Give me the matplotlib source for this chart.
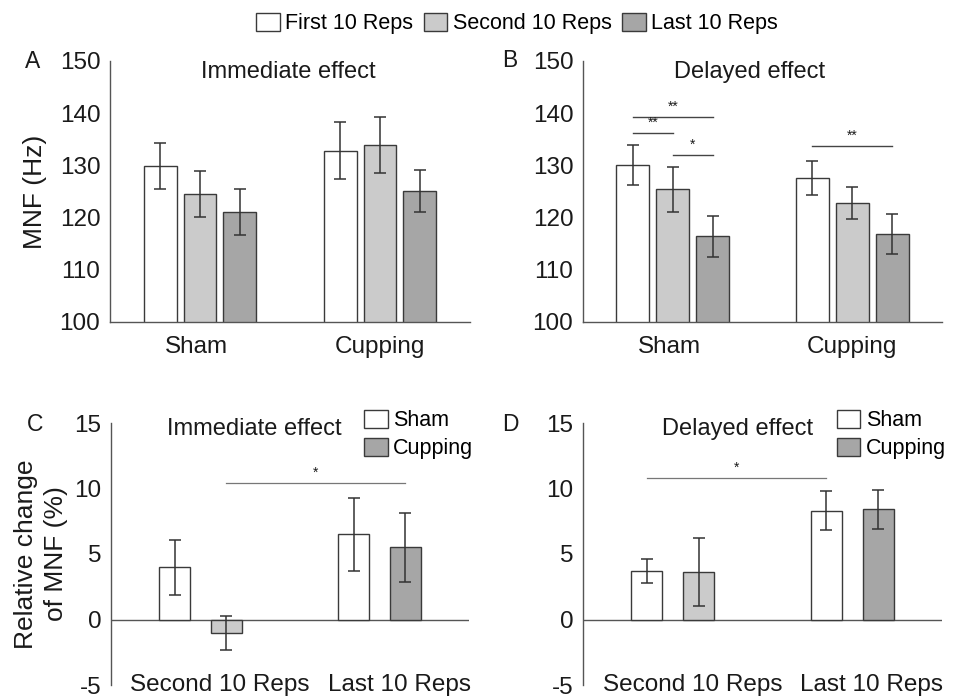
import matplotlib.pyplot as plt
from matplotlib.patches import Patch

plt.rcParams['font.family'] = ['Liberation Sans', 'DejaVu Sans']
plt.rcParams['axes.unicode_minus'] = False

# ---- data ----
groups = ["Sham", "Cupping"]
rep_labels = ["First 10 Reps", "Second 10 Reps", "Last 10 Reps"]

# A: immediate effect, MNF (Hz), rows = group, cols = rep block
imm_mean = [[129.8, 124.5, 121.0], [132.8, 133.9, 125.1]]
imm_err = [[4.4, 4.4, 4.4], [5.5, 5.4, 4.1]]
# B: delayed effect
del_mean = [[130.1, 125.4, 116.4], [127.6, 122.8, 116.9]]
del_err = [[3.9, 4.3, 3.9], [3.2, 3.1, 3.8]]

phases = ["Second 10 Reps", "Last 10 Reps"]
conds = ["Sham", "Cupping"]
# C: relative change of MNF (%), rows = phase, cols = condition
imm_rel = [[4.0, -1.0], [6.5, 5.5]]
imm_rel_err = [[2.1, 1.3], [2.8, 2.6]]
# D
del_rel = [[3.7, 3.65], [8.3, 8.4]]
del_rel_err = [[0.9, 2.6], [1.5, 1.5]]

# significance bars: (group, bar_from, bar_to, height, stars)
sig_B = [(0, 0, 2, 139.2, "**"), (0, 0, 1, 136.2, "**"),
         (0, 1, 2, 132.0, "*"), (1, 0, 2, 133.7, "**")]
# for C/D: (phase_from, cond_from, phase_to, cond_to, height, stars)
sig_C = [(0, 1, 1, 1, 10.4, "*")]
sig_D = [(0, 0, 1, 0, 10.8, "*")]

white = "#ffffff"
light = "#cbcbcb"
dark = "#a6a6a6"
edge = "#3a3a3a"
txt = "#1a1a1a"
spine_c = "#555555"

fig = plt.figure(figsize=(9.54, 6.97), dpi=100)
W, H = 954.0, 697.0


def make_ax(l, t, r, b):
    return fig.add_axes([l / W, 1 - b / H, (r - l) / W, (b - t) / H])


axA = make_ax(110, 61, 470, 322)
axB = make_ax(583, 61, 942, 322)
axC = make_ax(111, 423, 469, 685)
axD = make_ax(583, 423, 942, 685)

err_kw = dict(ecolor="#333333", elinewidth=1.1, capsize=4.5, capthick=1.1)


def mnf_panel(ax, means, errs, sigs):
    offs = [-0.222, 0.0, 0.222]
    cols = [white, light, dark]
    for gi in range(len(groups)):
        for ri in range(3):
            ax.bar(gi + 1 + offs[ri], means[gi][ri], 0.183, bottom=0,
                   yerr=errs[gi][ri], color=cols[ri], edgecolor=edge,
                   linewidth=1.0, error_kw=err_kw, zorder=2)
    for g, a, b, h, s in sigs:
        x0 = g + 1 + offs[a]
        x1 = g + 1 + offs[b]
        ax.plot([x0, x1], [h, h], color="#444444", lw=1.0)
        ax.text((x0 + x1) / 2, h + 0.7, s, ha="center", va="bottom",
                fontsize=10, color=txt)
    ax.set_ylim(100, 150)
    ax.set_xlim(0.5, 2.5)
    ax.set_yticks([100, 110, 120, 130, 140, 150])
    ax.set_xticks([0.98, 2.0], groups)
    ax.tick_params(length=0, labelsize=17.5, colors=txt)
    ax.tick_params(axis="y", pad=7)
    ax.tick_params(axis="x", pad=10)
    for s in ["top", "right"]:
        ax.spines[s].set_visible(False)
    for s in ["left", "bottom"]:
        ax.spines[s].set_color(spine_c)
        ax.spines[s].set_linewidth(1.0)


def rel_panel(ax, vals, errs, sigs):
    offs = [-0.145, 0.145]
    cols = [[white, light], [white, dark]]
    for pi in range(len(phases)):
        for ci in range(2):
            ax.bar(pi + 1 + offs[ci], vals[pi][ci], 0.175,
                   yerr=errs[pi][ci], color=cols[pi][ci], edgecolor=edge,
                   linewidth=1.0, error_kw=err_kw, zorder=2)
    for p0, c0, p1, c1, h, s in sigs:
        x0 = p0 + 1 + offs[c0]
        x1 = p1 + 1 + offs[c1]
        ax.plot([x0, x1], [h, h], color="#777777", lw=0.9)
        ax.text((x0 + x1) / 2, h + 0.25, s, ha="center", va="bottom",
                fontsize=10, color=txt)
    ax.axhline(0, color=spine_c, lw=1.0, zorder=1)
    ax.set_ylim(-5, 15)
    ax.set_xlim(0.5, 2.5)
    ax.set_yticks([-5, 0, 5, 10, 15])
    ax.set_xticks([])
    # category labels sit a little right of the group centres, at y = -5
    for pi, p in enumerate(phases):
        ax.text(pi + 1.11, -5, p, ha="center", va="center", fontsize=17.5,
                color=txt)
    ax.tick_params(length=0, labelsize=17.5, colors=txt)
    ax.tick_params(axis="y", pad=7)
    for s in ["top", "right", "bottom"]:
        ax.spines[s].set_visible(False)
    ax.spines["left"].set_color(spine_c)
    ax.spines["left"].set_linewidth(1.0)
    handles = [Patch(facecolor=white, edgecolor=edge),
               Patch(facecolor=dark, edgecolor=edge)]
    ax.legend(handles, conds, loc="upper left", bbox_to_anchor=(0.707, 1.05),
              frameon=False, fontsize=15.5, handlelength=1.1,
              handleheight=0.9, handletextpad=0.25, labelspacing=0.3,
              borderpad=0, borderaxespad=0)


mnf_panel(axA, imm_mean, imm_err, [])
mnf_panel(axB, del_mean, del_err, sig_B)
rel_panel(axC, imm_rel, imm_rel_err, sig_C)
rel_panel(axD, del_rel, del_rel_err, sig_D)

axA.text(0.494, 1.0, "Immediate effect", transform=axA.transAxes,
         ha="center", va="top", fontsize=17, color=txt)
axB.text(0.465, 1.0, "Delayed effect", transform=axB.transAxes,
         ha="center", va="top", fontsize=17, color=txt)
axC.text(0.40, 1.02, "Immediate effect", transform=axC.transAxes,
         ha="center", va="top", fontsize=17, color=txt)
axD.text(0.43, 1.02, "Delayed effect", transform=axD.transAxes,
         ha="center", va="top", fontsize=17, color=txt)

# panel letters
for lab, x, y in [("A", 25, 50), ("B", 502, 49), ("C", 27, 413), ("D", 502, 413)]:
    fig.text(x / W, 1 - y / H, lab, ha="left", va="top", fontsize=16.5,
             color=txt)

# y labels
fig.text(35 / W, 1 - 191.5 / H, "MNF (Hz)", rotation=90, ha="center",
         va="center", fontsize=19, color=txt)
fig.text(41 / W, 1 - 554 / H, "Relative change\nof MNF (%)", rotation=90,
         ha="center", va="center", fontsize=19, color=txt, linespacing=1.3)

# top legend
top_handles = [Patch(facecolor=c, edgecolor=edge) for c in [white, light, dark]]
fig.legend(top_handles, rep_labels, loc="center",
           bbox_to_anchor=(517 / W, 1 - 23.5 / H),
           ncol=3, frameon=False, fontsize=15.5, handlelength=1.1,
           handleheight=0.9, handletextpad=0.25, columnspacing=0.5,
           borderpad=0)

fig.savefig("out.png", dpi=100)
